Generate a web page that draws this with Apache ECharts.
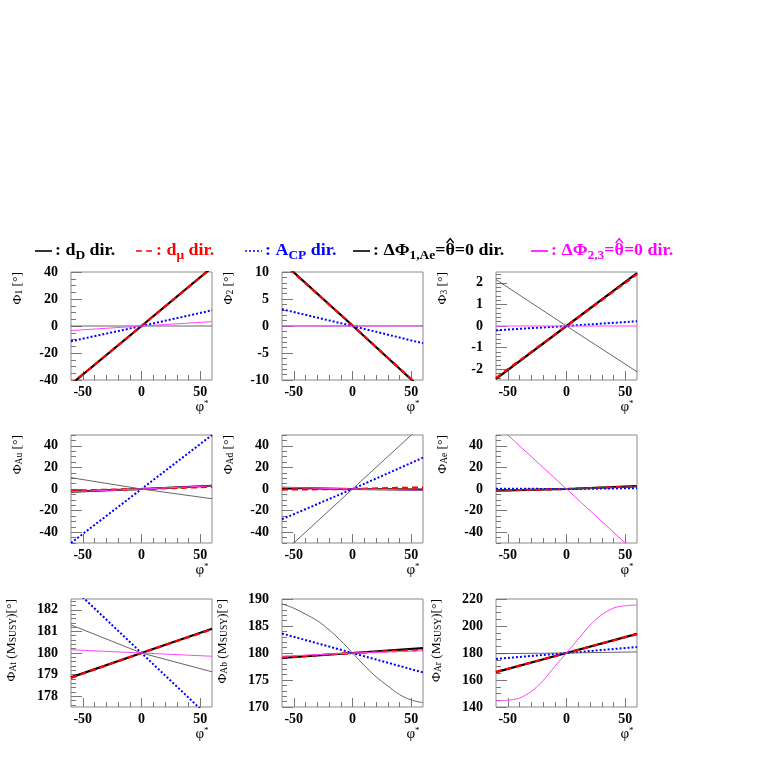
<!DOCTYPE html>
<html><head><meta charset="utf-8">
<script src="https://cdn.jsdelivr.net/npm/echarts@6/dist/echarts.min.js"></script>
<style>html,body{margin:0;padding:0;background:#fff}#c{width:763px;height:763px}</style>
</head><body><div id="c"></div>
<script>
// ---------------- data ----------------
const PHI_STAR = [-60, 0, 60];
const PHI_STAR_FINE = [-60, -50, -40, -30, -20, -10, 0, 10, 20, 30, 40, 50, 60];
const X_TICK_LABELS = [-50, 0, 50];

// Phi_1
const PHI1_dD   = [-43.2, 0, 43.4];
const PHI1_dmu  = [-43.0, 0, 43.2];
const PHI1_ACP  = [-11.3, 0, 11.6];
const PHI1_d1Ae = [0, 0, 0];
const PHI1_d23  = [-3.4, 0, 3.2];
const PHI1_TICKS = [-40, -20, 0, 20, 40];
// Phi_2
const PHI2_dD   = [11.9, 0.1, -11.9];
const PHI2_dmu  = [11.8, 0.1, -11.8];
const PHI2_ACP  = [3.1, 0, -3.2];
const PHI2_d1Ae = [0, 0, 0];
const PHI2_d23  = [0, 0, 0];
const PHI2_TICKS = [-10, -5, 0, 5, 10];
// Phi_3
const PHI3_dD   = [-2.45, 0, 2.45];
const PHI3_dmu  = [-2.4, 0, 2.4];
const PHI3_ACP  = [-0.2, 0, 0.22];
const PHI3_d1Ae = [2.15, 0, -2.12];
const PHI3_d23  = [0, 0, 0];
const PHI3_TICKS = [-2, -1, 0, 1, 2];
// Phi_Au
const PHIAU_dD   = [-2.5, 0, 3];
const PHIAU_dmu  = [-1.5, 0, 2];
const PHIAU_ACP  = [-50, 0, 50];
const PHIAU_d1Ae = [10.5, 0, -9];
const PHIAU_d23  = [-2.5, 0, 3];
// Phi_Ad
const PHIAD_dD   = [1, 0, -0.6];
const PHIAD_dmu  = [-0.5, 0, 1.5];
const PHIAD_ACP  = [-28, 0, 29];
const PHIAD_d1Ae = [-60, 0, 60];
const PHIAD_d23  = [1.5, 0, -1];
// Phi_Ae
const PHIAE_dD   = [-1.5, 0, 2.7];
const PHIAE_dmu  = [-1.5, 0, 2.5];
const PHIAE_ACP  = [0.3, 0, 0.8];
const PHIAE_d1Ae = [-1.2, 0, 2.2];
const PHIAE_d23  = [60, 0, -60];
const PHIA_TICKS = [-40, -20, 0, 20, 40];
// Phi_At(MSUSY)
const PHIAT_dD   = [178.87, 180, 181.12];
const PHIAT_dmu  = [178.85, 180, 181.1];
const PHIAT_ACP  = [183.1, 180, 176.9];
const PHIAT_d1Ae = [181.3, 180, 179.13];
const PHIAT_d23  = [180.15, 180, 179.85];
const PHIAT_TICKS = [178, 179, 180, 181, 182];
// Phi_Ab(MSUSY)
const PHIAB_dD   = [179.1, 180, 180.9];
const PHIAB_dmu  = [179.2, 180, 180.6];
const PHIAB_ACP  = [183.6, 180, 176.4];
const PHIAB_d1Ae = [189.1, 188.3, 187.2, 186.0, 184.3, 182.3, 180.0, 177.7, 175.6, 173.9, 172.3, 171.3, 170.8];
const PHIAB_d23  = [179.4, 180, 180.4];
const PHIAB_TICKS = [170, 175, 180, 185, 190];
// Phi_Ar(MSUSY)
const PHIAR_dD   = [165.8, 180, 194.2];
const PHIAR_dmu  = [166.0, 180, 194.0];
const PHIAR_ACP  = [175.6, 180, 184.4];
const PHIAR_d1Ae = [179.5, 180, 180.8];
const PHIAR_d23  = [144.5, 145.0, 146.6, 151.5, 159.5, 170.0, 180.0, 190.3, 200.6, 208.3, 213.3, 215.0, 215.5];
const PHIAR_TICKS = [140, 160, 180, 200, 220];

// ---------------- layout ----------------
const COL_LEFT = [71, 282, 496];
const ROW_TOP = [272, 435, 599];
const GW = 141, GH = 108;
const FONT = 'Liberation Serif';

const panels = [
  {title: 'Φ{s|1} [°]', min: -40, max: 40, ticks: PHI1_TICKS, minor: 5,
   x: [PHI_STAR, PHI_STAR, PHI_STAR, PHI_STAR, PHI_STAR], y: [PHI1_dD, PHI1_dmu, PHI1_ACP, PHI1_d1Ae, PHI1_d23]},
  {title: 'Φ{s|2} [°]', min: -10, max: 10, ticks: PHI2_TICKS, minor: 1,
   x: [PHI_STAR, PHI_STAR, PHI_STAR, PHI_STAR, PHI_STAR], y: [PHI2_dD, PHI2_dmu, PHI2_ACP, PHI2_d1Ae, PHI2_d23]},
  {title: 'Φ{s|3} [°]', min: -2.5, max: 2.5, ticks: PHI3_TICKS, minor: 0.2,
   x: [PHI_STAR, PHI_STAR, PHI_STAR, PHI_STAR, PHI_STAR], y: [PHI3_dD, PHI3_dmu, PHI3_ACP, PHI3_d1Ae, PHI3_d23]},
  {title: 'Φ{s|Au} [°]', min: -50, max: 50, ticks: PHIA_TICKS, minor: 5,
   x: [PHI_STAR, PHI_STAR, PHI_STAR, PHI_STAR, PHI_STAR], y: [PHIAU_dD, PHIAU_dmu, PHIAU_ACP, PHIAU_d1Ae, PHIAU_d23]},
  {title: 'Φ{s|Ad} [°]', min: -50, max: 50, ticks: PHIA_TICKS, minor: 5,
   x: [PHI_STAR, PHI_STAR, PHI_STAR, PHI_STAR, PHI_STAR], y: [PHIAD_dD, PHIAD_dmu, PHIAD_ACP, PHIAD_d1Ae, PHIAD_d23]},
  {title: 'Φ{s|Ae} [°]', min: -50, max: 50, ticks: PHIA_TICKS, minor: 5,
   x: [PHI_STAR, PHI_STAR, PHI_STAR, PHI_STAR, PHI_STAR], y: [PHIAE_dD, PHIAE_dmu, PHIAE_ACP, PHIAE_d1Ae, PHIAE_d23]},
  {title: 'Φ{s|At} (M{s|SUSY})[°]', min: 177.5, max: 182.5, ticks: PHIAT_TICKS, minor: 0.2,
   x: [PHI_STAR, PHI_STAR, PHI_STAR, PHI_STAR, PHI_STAR], y: [PHIAT_dD, PHIAT_dmu, PHIAT_ACP, PHIAT_d1Ae, PHIAT_d23]},
  {title: 'Φ{s|Ab} (M{s|SUSY})[°]', min: 170, max: 190, ticks: PHIAB_TICKS, minor: 1,
   x: [PHI_STAR, PHI_STAR, PHI_STAR, PHI_STAR_FINE, PHI_STAR], y: [PHIAB_dD, PHIAB_dmu, PHIAB_ACP, PHIAB_d1Ae, PHIAB_d23]},
  {title: 'Φ{s|Ar} (M{s|SUSY})[°]', min: 140, max: 220, ticks: PHIAR_TICKS, minor: 5,
   x: [PHI_STAR, PHI_STAR, PHI_STAR, PHI_STAR, PHI_STAR_FINE], y: [PHIAR_dD, PHIAR_dmu, PHIAR_ACP, PHIAR_d1Ae, PHIAR_d23]}
];

const STYLES = [
  {color: '#000000', width: 2.2, type: 'solid'},
  {color: '#ff0000', width: 2.2, type: [6, 4]},
  {color: '#0000ff', width: 2, type: [2, 2]},
  {color: '#555555', width: 0.9, type: 'solid'},
  {color: '#ff44ff', width: 1, type: 'solid'}
];

function steps(a, b, s) {
  const out = [];
  const n = Math.round((b - a) / s);
  for (let i = 0; i <= n; i++) out.push(+(a + i * s).toFixed(4));
  return out;
}

const grids = [], xAxes = [], yAxes = [], series = [], graphics = [];
const labelStyle = {fontFamily: FONT, fontWeight: 'bold', fontSize: 14, color: '#000'};
const richSub = {
  s: {fontFamily: FONT, fontSize: 9.5, verticalAlign: 'bottom', lineHeight: 9, fill: '#000'}
};
const TICK_COLOR = '#777';

panels.forEach((p, i) => {
  const r = Math.floor(i / 3), c = i % 3;
  const left = COL_LEFT[c], top = ROW_TOP[r];
  grids.push({left: left, top: top, width: GW, height: GH, show: true, borderColor: '#8a8a8a', borderWidth: 1, backgroundColor: 'transparent'});
  xAxes.push({gridIndex: i, type: 'value', min: -60, max: 60, position: 'bottom',
    axisLine: {show: false, onZero: false}, splitLine: {show: false},
    axisTick: {show: true, inside: true, length: 9, customValues: X_TICK_LABELS, lineStyle: {color: TICK_COLOR}},
    axisLabel: Object.assign({customValues: X_TICK_LABELS, margin: 5}, labelStyle)});
  xAxes.push({gridIndex: i, type: 'value', min: -60, max: 60, position: 'bottom',
    axisLine: {show: false, onZero: false}, splitLine: {show: false},
    axisTick: {show: true, inside: true, length: 5, customValues: steps(-50, 50, 10), lineStyle: {color: TICK_COLOR}},
    axisLabel: {show: false}});
  yAxes.push({gridIndex: i, type: 'value', min: p.min, max: p.max, position: 'left',
    axisLine: {show: false, onZero: false}, splitLine: {show: false},
    axisTick: {show: true, inside: true, length: 11, customValues: p.ticks, lineStyle: {color: TICK_COLOR}},
    axisLabel: Object.assign({customValues: p.ticks, margin: 13}, labelStyle)});
  const lo = Math.ceil(p.min / p.minor - 1e-6) * p.minor;
  const hi = Math.floor(p.max / p.minor + 1e-6) * p.minor;
  yAxes.push({gridIndex: i, type: 'value', min: p.min, max: p.max, position: 'left',
    axisLine: {show: false, onZero: false}, splitLine: {show: false},
    axisTick: {show: true, inside: true, length: 5, customValues: steps(lo, hi, p.minor), lineStyle: {color: TICK_COLOR}},
    axisLabel: {show: false}});
  p.y.forEach((vals, k) => {
    const xs = p.x[k];
    series.push({type: 'line', xAxisIndex: 2 * i, yAxisIndex: 2 * i, showSymbol: false, symbol: 'none',
      smooth: xs.length > 3 ? 0.3 : false, clip: true, silent: true,
      lineStyle: {color: STYLES[k].color, width: STYLES[k].width, type: STYLES[k].type},
      data: xs.map((x, j) => [x, vals[j]]), z: 2 + k});
  });
  // y title
  graphics.push({type: 'text', x: left - (r === 2 ? 60 : 54), y: top, rotation: Math.PI / 2,
    style: {text: p.title, rich: richSub, fontFamily: FONT, fontSize: 13.5, fill: '#000', align: 'right', verticalAlign: 'middle'}});
  // x title
  graphics.push({type: 'text', x: left + GW - 10, y: top + GH + 27,
    style: {text: 'φ{p|*}', rich: {p: {fontFamily: FONT, fontSize: 9, verticalAlign: 'top', lineHeight: 9, fill: '#000'}},
      fontFamily: FONT, fontSize: 15, fill: '#000', align: 'center', verticalAlign: 'middle'}});
});

// legend (segments laid out in a row, subscripts lowered, hat drawn above theta)
const LEG_Y = 251;
const LEG_SX = 1.12;
const MAIN_SIZE = 16, SUB_SIZE = 12;
const mctx = document.createElement('canvas').getContext('2d');
function textW(t, size) {
  mctx.font = 'bold ' + size + 'px "' + FONT + '"';
  return mctx.measureText(t).width * LEG_SX;
}
const legendItems = [
  {x0: 35, color: '#000', dash: null, segs: [{t: ': d'}, {t: 'D', sub: 1}, {t: ' dir.'}]},
  {x0: 136, color: '#ff0000', dash: [6, 4], segs: [{t: ': d'}, {t: 'μ', sub: 1}, {t: ' dir.'}]},
  {x0: 245, color: '#0000ff', dash: [2, 2], segs: [{t: ': A'}, {t: 'CP', sub: 1}, {t: ' dir.'}]},
  {x0: 353, color: '#000', dash: null, segs: [{t: ': ΔΦ'}, {t: '1,Ae', sub: 1}, {t: '='}, {t: 'θ', hat: 1}, {t: '=0 dir.'}]},
  {x0: 531, color: '#ff00ff', dash: null, segs: [{t: ': ΔΦ'}, {t: '2,3', sub: 1}, {t: '='}, {t: 'θ', hat: 1}, {t: '=0 dir.'}]}
];
legendItems.forEach(it => {
  graphics.push({type: 'line', shape: {x1: it.x0, y1: LEG_Y, x2: it.x0 + 17, y2: LEG_Y},
    style: {stroke: it.color, lineWidth: 1.6, lineDash: it.dash}});
  let x = it.x0 + 20;
  it.segs.forEach(sg => {
    const size = sg.sub ? SUB_SIZE : MAIN_SIZE;
    const w = textW(sg.t, size);
    graphics.push({type: 'text', x: x, y: sg.sub ? LEG_Y + 5 : LEG_Y, scaleX: LEG_SX,
      style: {text: sg.t, fontFamily: FONT, fontWeight: 'bold', fontSize: size, fill: it.color,
        verticalAlign: 'middle', align: 'left'}});
    if (sg.hat) {
      graphics.push({type: 'polyline', shape: {points: [[x + w * 0.12, LEG_Y - 8], [x + w * 0.5, LEG_Y - 12.5], [x + w * 0.88, LEG_Y - 8]]},
        style: {stroke: it.color, lineWidth: 1.3, fill: null}});
    }
    x += w;
  });
});

const chart = echarts.init(document.getElementById('c'), null, {renderer: 'canvas'});
chart.setOption({
  animation: false,
  backgroundColor: '#fff',
  grid: grids, xAxis: xAxes, yAxis: yAxes, series: series, graphic: graphics
});
</script></body></html>
